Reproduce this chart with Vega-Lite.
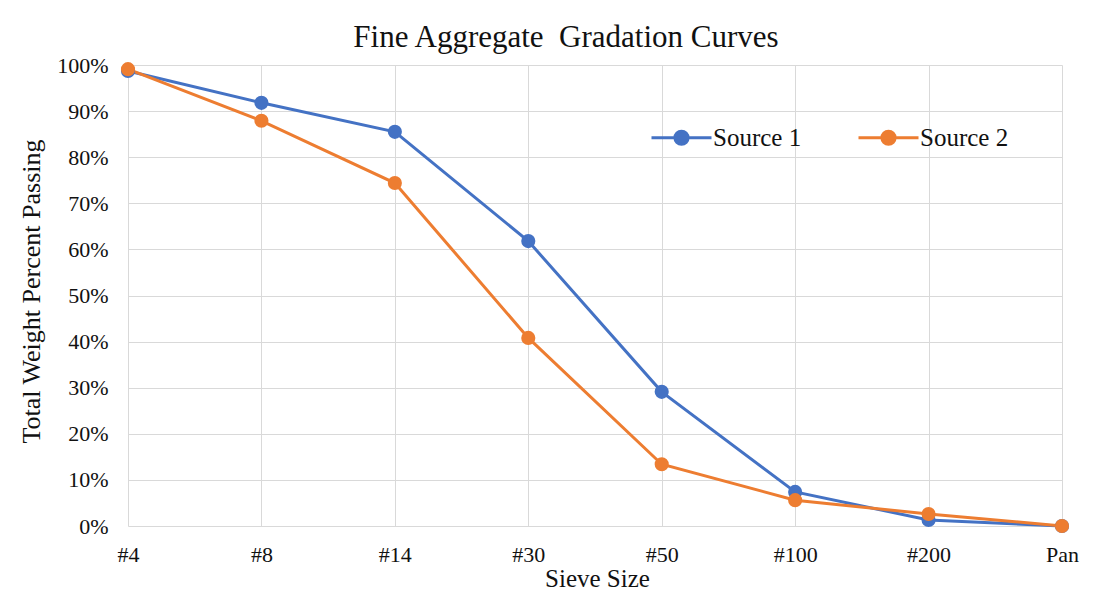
{
  "$schema": "https://vega.github.io/schema/vega-lite/v6.json",
  "width": 934,
  "height": 461,
  "autosize": {"type": "none"},
  "padding": {"left": 128, "top": 65, "right": 32, "bottom": 72},
  "background": "white",
  "title": {
    "text": "Fine Aggregate\u00a0 Gradation Curves",
    "font": "Liberation Serif",
    "fontSize": 31,
    "fontWeight": "normal",
    "color": "#111",
    "anchor": "middle",
    "frame": "group",
    "dx": -29,
    "dy": 40,
    "baseline": "bottom",
    "offset": 9
  },
  "config": {
    "view": {"stroke": null},
    "font": "Liberation Serif",
    "axis": {
      "labelFont": "Liberation Serif",
      "titleFont": "Liberation Serif",
      "labelColor": "#111",
      "titleColor": "#111",
      "titleFontWeight": "normal",
      "gridColor": "#d9d9d9",
      "gridWidth": 1,
      "domain": false,
      "ticks": false
    }
  },
  "data": {
    "values": [
      {"sieve": "#4", "source": "Source 1", "pct": 0.987},
      {"sieve": "#8", "source": "Source 1", "pct": 0.918},
      {"sieve": "#14", "source": "Source 1", "pct": 0.855},
      {"sieve": "#30", "source": "Source 1", "pct": 0.618},
      {"sieve": "#50", "source": "Source 1", "pct": 0.291},
      {"sieve": "#100", "source": "Source 1", "pct": 0.074},
      {"sieve": "#200", "source": "Source 1", "pct": 0.013},
      {"sieve": "Pan", "source": "Source 1", "pct": 0.0},
      {"sieve": "#4", "source": "Source 2", "pct": 0.991},
      {"sieve": "#8", "source": "Source 2", "pct": 0.879},
      {"sieve": "#14", "source": "Source 2", "pct": 0.744},
      {"sieve": "#30", "source": "Source 2", "pct": 0.408},
      {"sieve": "#50", "source": "Source 2", "pct": 0.134},
      {"sieve": "#100", "source": "Source 2", "pct": 0.056},
      {"sieve": "#200", "source": "Source 2", "pct": 0.026},
      {"sieve": "Pan", "source": "Source 2", "pct": 0.0}
    ]
  },
  "encoding": {
    "x": {
      "field": "sieve",
      "type": "ordinal",
      "sort": ["#4", "#8", "#14", "#30", "#50", "#100", "#200", "Pan"],
      "scale": {"type": "point", "padding": 0},
      "axis": {
        "title": "Sieve Size",
        "labelAngle": 0,
        "labelFontSize": 22,
        "labelPadding": 18,
        "titleFontSize": 25,
        "titleX": 469,
        "titleY": 52,
        "titleBaseline": "middle",
        "titleAlign": "center",
        "grid": true
      }
    },
    "y": {
      "field": "pct",
      "type": "quantitative",
      "scale": {"domain": [0, 1], "nice": false, "zero": true},
      "axis": {
        "title": "Total Weight Percent Passing",
        "format": ".0%",
        "values": [0, 0.1, 0.2, 0.3, 0.4, 0.5, 0.6, 0.7, 0.8, 0.9, 1],
        "labelFontSize": 22,
        "labelPadding": 20,
        "titleFontSize": 26,
        "titleX": -97,
        "titleY": 226,
        "titleAngle": -90,
        "titleBaseline": "middle",
        "titleAlign": "center",
        "grid": true
      }
    },
    "color": {
      "field": "source",
      "type": "nominal",
      "scale": {"domain": ["Source 1", "Source 2"], "range": ["#4472C4", "#ED7D31"]},
      "legend": {
        "title": null,
        "orient": "none",
        "direction": "horizontal",
        "columns": 2,
        "legendX": 522,
        "legendY": 41,
        "padding": 0,
        "columnPadding": 50,
        "symbolType": "M-1,0L1,0M0.22,0A0.22,0.22,0,1,1,-0.22,0A0.22,0.22,0,1,1,0.22,0",
        "symbolSize": 3600,
        "symbolStrokeWidth": 3,
        "symbolOpacity": 1,
        "labelFont": "Liberation Serif",
        "labelFontSize": 25,
        "labelColor": "#111",
        "labelOffset": 0,
        "encode": {
          "symbols": {
            "update": {
              "stroke": {"scale": "color", "field": "value"},
              "fill": {"scale": "color", "field": "value"}
            }
          }
        }
      }
    }
  },
  "layer": [
    {
      "mark": {"type": "line", "strokeWidth": 3}
    },
    {
      "mark": {"type": "point", "filled": true, "size": 200, "opacity": 1}
    }
  ]
}
